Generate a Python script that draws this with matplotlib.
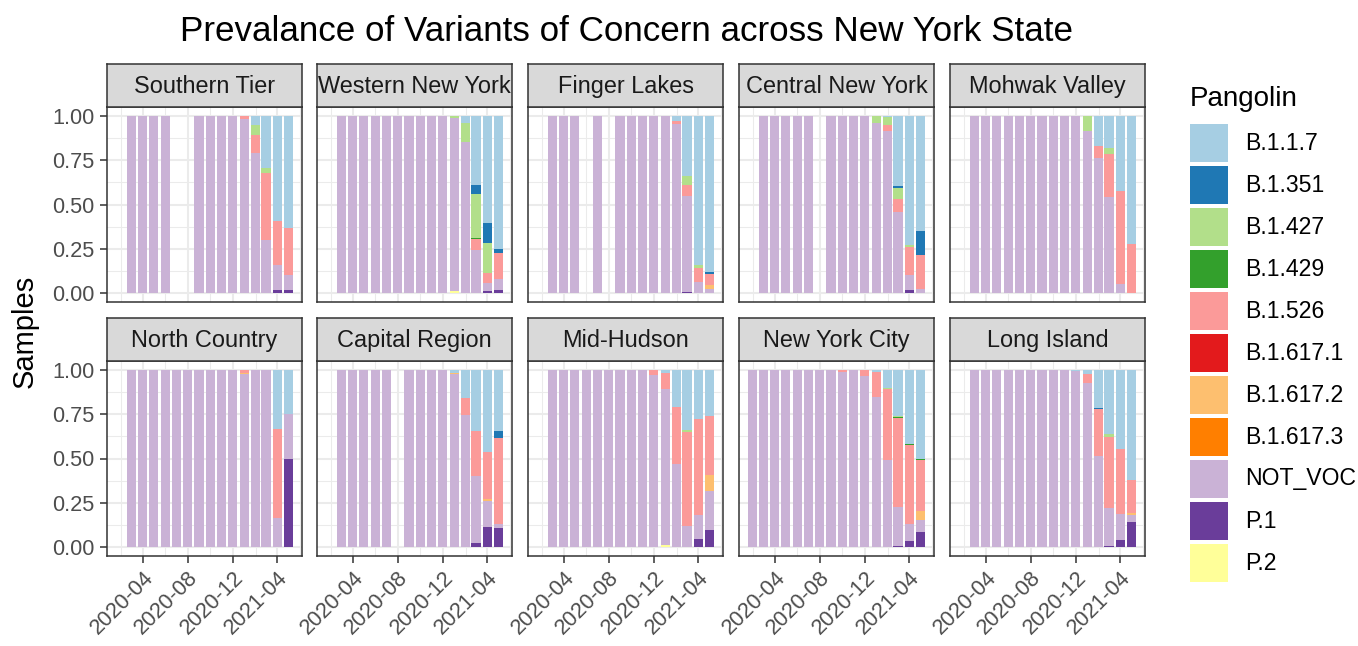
import datetime as dt
import numpy as np
import matplotlib
matplotlib.use("Agg")
import matplotlib.pyplot as plt
import matplotlib.dates as mdates
from matplotlib.patches import Rectangle

plt.rcParams['font.family'] = ['Liberation Sans', 'DejaVu Sans']

# months shown on the x axis (first day of each month)
months = ["2020-02", "2020-03", "2020-04", "2020-05", "2020-06", "2020-07", "2020-08",
          "2020-09", "2020-10", "2020-11", "2020-12", "2021-01", "2021-02", "2021-03",
          "2021-04", "2021-05"]
xtick_labels = ["2020-04", "2020-08", "2020-12", "2021-04"]
minor_months = ["2020-02", "2020-06", "2020-10", "2021-02", "2021-06"]

variants = ["B.1.1.7", "B.1.351", "B.1.427", "B.1.429", "B.1.526", "B.1.617.1",
            "B.1.617.2", "B.1.617.3", "NOT_VOC", "P.1", "P.2"]
colors = ["#A6CEE3", "#1F78B4", "#B2DF8A", "#33A02C", "#FB9A99", "#E31A1C",
          "#FDBF6F", "#FF7F00", "#CAB2D6", "#6A3D9A", "#FFFF99"]

regions = ["Southern Tier", "Western New York", "Finger Lakes", "Central New York",
           "Mohwak Valley", "North Country", "Capital Region", "Mid-Hudson",
           "New York City", "Long Island"]

N = None
# share of samples per month; None in NOT_VOC = no samples that month
southern_tier = {
    "NOT_VOC": [N, 1, 1, 1, 1, N, N, 1, 1, 1, 1, 0.98, 0.79, 0.30, 0.14, 0.085],
    "B.1.1.7": [0, 0, 0, 0, 0, 0, 0, 0, 0, 0, 0, 0, 0.05, 0.296, 0.59, 0.63],
    "B.1.427": [0, 0, 0, 0, 0, 0, 0, 0, 0, 0, 0, 0, 0.06, 0.024, 0, 0],
    "B.1.526": [0, 0, 0, 0, 0, 0, 0, 0, 0, 0, 0, 0.02, 0.10, 0.38, 0.25, 0.267],
    "P.1":     [0, 0, 0, 0, 0, 0, 0, 0, 0, 0, 0, 0, 0, 0, 0.017, 0.017],
}
western_ny = {
    "NOT_VOC": [N, 1, 1, 1, 1, 1, 1, 1, 1, 1, 1, 0.977, 0.855, 0.243, 0.047, 0.058],
    "B.1.1.7": [0, 0, 0, 0, 0, 0, 0, 0, 0, 0, 0, 0, 0.04, 0.39, 0.606, 0.753],
    "B.1.351": [0, 0, 0, 0, 0, 0, 0, 0, 0, 0, 0, 0, 0, 0.053, 0.11, 0.023],
    "B.1.427": [0, 0, 0, 0, 0, 0, 0, 0, 0, 0, 0, 0.01, 0.105, 0.245, 0.168, 0],
    "B.1.429": [0, 0, 0, 0, 0, 0, 0, 0, 0, 0, 0, 0, 0, 0.007, 0, 0],
    "B.1.526": [0, 0, 0, 0, 0, 0, 0, 0, 0, 0, 0, 0, 0, 0.062, 0.058, 0.147],
    "P.1":     [0, 0, 0, 0, 0, 0, 0, 0, 0, 0, 0, 0, 0, 0, 0.011, 0.019],
    "P.2":     [0, 0, 0, 0, 0, 0, 0, 0, 0, 0, 0, 0.013, 0, 0, 0, 0],
}
finger_lakes = {
    "NOT_VOC": [N, 1, 1, 1, N, 1, N, 1, 1, 1, 1, 1, 0.955, 0.54, 0.064, 0.021],
    "B.1.1.7": [0, 0, 0, 0, 0, 0, 0, 0, 0, 0, 0, 0, 0.028, 0.337, 0.842, 0.88],
    "B.1.351": [0, 0, 0, 0, 0, 0, 0, 0, 0, 0, 0, 0, 0, 0, 0, 0.013],
    "B.1.427": [0, 0, 0, 0, 0, 0, 0, 0, 0, 0, 0, 0, 0, 0.053, 0.015, 0],
    "B.1.526": [0, 0, 0, 0, 0, 0, 0, 0, 0, 0, 0, 0, 0.017, 0.062, 0.079, 0.062],
    "B.1.617.2": [0, 0, 0, 0, 0, 0, 0, 0, 0, 0, 0, 0, 0, 0, 0, 0.024],
    "P.1":     [0, 0, 0, 0, 0, 0, 0, 0, 0, 0, 0, 0, 0, 0.008, 0, 0],
}
central_ny = {
    "NOT_VOC": [N, 1, 1, 1, 1, 1, N, 1, 1, 1, 1, 0.962, 0.915, 0.457, 0.085, 0.021],
    "B.1.1.7": [0, 0, 0, 0, 0, 0, 0, 0, 0, 0, 0, 0, 0.008, 0.395, 0.729, 0.648],
    "B.1.351": [0, 0, 0, 0, 0, 0, 0, 0, 0, 0, 0, 0, 0, 0.013, 0, 0.137],
    "B.1.427": [0, 0, 0, 0, 0, 0, 0, 0, 0, 0, 0, 0.038, 0.045, 0.062, 0.013, 0],
    "B.1.526": [0, 0, 0, 0, 0, 0, 0, 0, 0, 0, 0, 0, 0.032, 0.073, 0.156, 0.194],
    "P.1":     [0, 0, 0, 0, 0, 0, 0, 0, 0, 0, 0, 0, 0, 0, 0.017, 0],
}
mohawk_valley = {
    "NOT_VOC": [N, 1, 1, 1, 1, 1, 1, 1, 1, 1, 1, 0.915, 0.764, 0.54, 0.051, 0],
    "B.1.1.7": [0, 0, 0, 0, 0, 0, 0, 0, 0, 0, 0, 0, 0.17, 0.183, 0.424, 0.725],
    "B.1.427": [0, 0, 0, 0, 0, 0, 0, 0, 0, 0, 0, 0.085, 0, 0.034, 0, 0],
    "B.1.526": [0, 0, 0, 0, 0, 0, 0, 0, 0, 0, 0, 0, 0.066, 0.243, 0.525, 0.275],
}
north_country = {
    "NOT_VOC": [N, 1, 1, 1, 1, 1, 1, 1, 1, 1, 1, 0.977, 1, 1, 0.164, 0.25],
    "B.1.1.7": [0, 0, 0, 0, 0, 0, 0, 0, 0, 0, 0, 0, 0, 0, 0.332, 0.25],
    "B.1.526": [0, 0, 0, 0, 0, 0, 0, 0, 0, 0, 0, 0.015, 0, 0, 0.504, 0],
    "B.1.617.2": [0, 0, 0, 0, 0, 0, 0, 0, 0, 0, 0, 0.008, 0, 0, 0, 0],
    "P.1":     [0, 0, 0, 0, 0, 0, 0, 0, 0, 0, 0, 0, 0, 0, 0, 0.5],
}
capital_region = {
    "NOT_VOC": [N, 1, 1, 1, 1, 1, N, 1, 1, 1, 1, 0.977, 0.743, 0.381, 0.151, 0.023],
    "B.1.1.7": [0, 0, 0, 0, 0, 0, 0, 0, 0, 0, 0, 0.015, 0.157, 0.345, 0.462, 0.345],
    "B.1.351": [0, 0, 0, 0, 0, 0, 0, 0, 0, 0, 0, 0, 0, 0, 0, 0.038],
    "B.1.526": [0, 0, 0, 0, 0, 0, 0, 0, 0, 0, 0, 0, 0.10, 0.251, 0.266, 0.487],
    "B.1.617.2": [0, 0, 0, 0, 0, 0, 0, 0, 0, 0, 0, 0.008, 0, 0, 0.009, 0],
    "P.1":     [0, 0, 0, 0, 0, 0, 0, 0, 0, 0, 0, 0, 0, 0.023, 0.111, 0.108],
}
mid_hudson = {
    "NOT_VOC": [N, 1, 1, 1, 1, 1, 1, 1, 1, 1, 0.972, 0.877, 0.47, 0.12, 0.138, 0.217],
    "B.1.1.7": [0, 0, 0, 0, 0, 0, 0, 0, 0, 0, 0, 0.02, 0.21, 0.34, 0.275, 0.26],
    "B.1.427": [0, 0, 0, 0, 0, 0, 0, 0, 0, 0, 0, 0, 0, 0.01, 0, 0],
    "B.1.526": [0, 0, 0, 0, 0, 0, 0, 0, 0, 0, 0.028, 0.09, 0.32, 0.53, 0.54, 0.33],
    "B.1.617.2": [0, 0, 0, 0, 0, 0, 0, 0, 0, 0, 0, 0, 0, 0, 0, 0.094],
    "P.1":     [0, 0, 0, 0, 0, 0, 0, 0, 0, 0, 0, 0, 0, 0, 0.045, 0.098],
    "P.2":     [0, 0, 0, 0, 0, 0, 0, 0, 0, 0, 0, 0.013, 0, 0, 0, 0],
}
new_york_city = {
    "NOT_VOC": [1, 1, 1, 1, 1, 1, 1, 1, 0.99, 1, 0.966, 0.845, 0.494, 0.219, 0.098, 0.072],
    "B.1.1.7": [0, 0, 0, 0, 0, 0, 0, 0, 0, 0, 0, 0.01, 0.10, 0.257, 0.417, 0.50],
    "B.1.427": [0, 0, 0, 0, 0, 0, 0, 0, 0, 0, 0, 0, 0.006, 0.006, 0, 0],
    "B.1.429": [0, 0, 0, 0, 0, 0, 0, 0, 0, 0, 0, 0, 0.003, 0.005, 0.006, 0.005],
    "B.1.526": [0, 0, 0, 0, 0, 0, 0, 0, 0.01, 0, 0.034, 0.145, 0.396, 0.504, 0.447, 0.292],
    "B.1.617.2": [0, 0, 0, 0, 0, 0, 0, 0, 0, 0, 0, 0, 0, 0, 0, 0.047],
    "P.1":     [0, 0, 0, 0, 0, 0, 0, 0, 0, 0, 0, 0, 0, 0.008, 0.032, 0.083],
}
long_island = {
    "NOT_VOC": [N, 1, 1, 1, 1, 1, 1, 1, 1, 1, 0.992, 0.925, 0.513, 0.213, 0.147, 0.042],
    "B.1.1.7": [0, 0, 0, 0, 0, 0, 0, 0, 0, 0, 0.008, 0.026, 0.215, 0.364, 0.449, 0.623],
    "B.1.351": [0, 0, 0, 0, 0, 0, 0, 0, 0, 0, 0, 0, 0.008, 0, 0, 0],
    "B.1.427": [0, 0, 0, 0, 0, 0, 0, 0, 0, 0, 0, 0, 0, 0.013, 0, 0],
    "B.1.526": [0, 0, 0, 0, 0, 0, 0, 0, 0, 0, 0, 0.049, 0.264, 0.402, 0.362, 0.185],
    "B.1.617.2": [0, 0, 0, 0, 0, 0, 0, 0, 0, 0, 0, 0, 0, 0, 0, 0.011],
    "P.1":     [0, 0, 0, 0, 0, 0, 0, 0, 0, 0, 0, 0, 0, 0.008, 0.042, 0.14],
}
region_data = [southern_tier, western_ny, finger_lakes, central_ny, mohawk_valley,
               north_country, capital_region, mid_hudson, new_york_city, long_island]

W, H = 1358, 646
fig = plt.figure(figsize=(W / 100, H / 100), dpi=100)


def box(x, y, w, h):
    return [x / W, 1 - (y + h) / H, w / W, h / H]


def to_num(m):
    return mdates.date2num(dt.datetime.strptime(m, "%Y-%m"))


xs = np.array([to_num(m) for m in months])
bar_w = 25.2
lo, hi = xs[0] - bar_w / 2, xs[-1] + bar_w / 2
pad = 0.05 * (hi - lo)

col_x = [107, 317, 528, 739, 950]
row_y = [107, 361]
pw, ph, sh = 195, 195, 43
grey20 = "#333333"

for k, (name, data) in enumerate(zip(regions, region_data)):
    r, c = divmod(k, 5)
    ax = fig.add_axes(box(col_x[c], row_y[r], pw, ph))
    ax.set_facecolor("white")
    present = np.array([v is not None for v in data["NOT_VOC"]])
    bottom = np.zeros(len(months))
    for v, col in zip(variants[::-1], colors[::-1]):
        vals = np.array([0 if x is None else x for x in data.get(v, [0] * len(months))], float)
        ax.bar(xs[present], vals[present], width=bar_w, bottom=bottom[present],
               color=col, linewidth=0, zorder=2)
        bottom += vals
    ax.set_xlim(lo - pad, hi + pad)
    ax.set_ylim(-0.05, 1.05)
    ax.set_xticks([to_num(m) for m in xtick_labels])
    ax.set_xticks([to_num(m) for m in minor_months], minor=True)
    ax.set_yticks([0, 0.25, 0.5, 0.75, 1.0])
    ax.set_yticks([0.125, 0.375, 0.625, 0.875], minor=True)
    ax.grid(which="major", color="#EBEBEB", linewidth=1.5, zorder=0)
    ax.grid(which="minor", color="#EBEBEB", linewidth=0.75, zorder=0)
    ax.set_axisbelow(True)
    for s in ax.spines.values():
        s.set_color(grey20)
        s.set_linewidth(1.1)
    ax.tick_params(which="minor", length=0)
    ax.tick_params(which="major", length=5, width=1.1, color=grey20,
                   labelsize=15.7, labelcolor="#4D4D4D")
    if c == 0:
        ax.set_yticklabels(["0.00", "0.25", "0.50", "0.75", "1.00"])
        ax.tick_params(axis="y", pad=4)
    else:
        ax.tick_params(axis="y", length=0, labelleft=False)
    if r == 1:
        ax.set_xticklabels(xtick_labels, rotation=45, ha="right", va="top",
                           rotation_mode="anchor")
        ax.tick_params(axis="x", pad=3)
    else:
        ax.tick_params(axis="x", length=0, labelbottom=False)

    st = fig.add_axes(box(col_x[c], row_y[r] - sh, pw, sh))
    st.set_facecolor("#D9D9D9")
    st.set_xticks([])
    st.set_yticks([])
    for s in st.spines.values():
        s.set_color(grey20)
        s.set_linewidth(1.1)
    st.text(0.5, 0.47, name, ha="center", va="center", fontsize=16.9,
            color="#1A1A1A", transform=st.transAxes)

fig.text(626 / W, 1 - 41 / H, "Prevalance of Variants of Concern across New York State",
         ha="center", va="baseline", fontsize=25.2, color="black")
fig.text(25 / W, 1 - 331 / H, "Samples", rotation=90, ha="center", va="center",
         fontsize=21, color="black")

# legend
ov = fig.add_axes([0, 0, 1, 1], zorder=-1)
ov.set_xlim(0, W)
ov.set_ylim(H, 0)
ov.axis("off")
ov.text(1190, 106, "Pangolin", fontsize=20, va="baseline", ha="left")
for i, (v, col) in enumerate(zip(variants, colors)):
    ov.add_patch(Rectangle((1190, 124 + 42 * i), 38, 38, facecolor=col, edgecolor="none"))
    ov.text(1245, 143 + 42 * i, v, fontsize=16.6, va="center", ha="left", color="black")

fig.savefig("out.png", dpi=100)
